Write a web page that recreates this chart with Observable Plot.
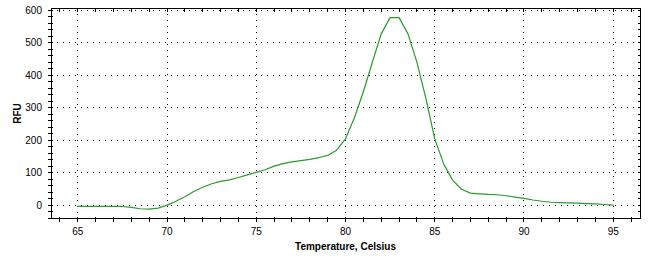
<!DOCTYPE html>
<html><head><meta charset="utf-8">
<script src="https://cdn.jsdelivr.net/npm/d3@7"></script>
<script src="https://cdn.jsdelivr.net/npm/@observablehq/plot@0.6"></script>
<style>
body{margin:0;background:#fff;}
#chart svg{font-family:"Liberation Sans",Arial,sans-serif;}
g[aria-label="x-axis label"] text, g[aria-label="y-axis label"] text {font-weight:bold;}
</style></head><body><div id="chart"></div>
<script>
const temperature = [65,65.5,66,66.5,67,67.5,68,68.5,69,69.5,70,70.5,71,71.5,72,72.5,73,73.5,74,74.5,75,75.5,76,76.5,77,77.5,78,78.5,79,79.5,80,80.5,81,81.5,82,82.5,83,83.5,84,84.5,85,85.5,86,86.5,87,87.5,88,88.5,89,89.5,90,90.5,91,91.5,92,92.5,93,93.5,94,94.5,95];
const rfu = [-3,-3,-3,-3,-3,-3,-6,-10,-11,-8,1,13,27,43,56,67,74,79,86,94,102,110,121,129,134,138,142,147,154,170,205,270,350,440,528,578,578,528,441,330,205,128,78,50,38,36,34,33,30,26,22,17,13,10,9,8,7,6,5,3,1];
const xMajorTicks = [65,70,75,80,85,90,95];
const xMinorTicks = d3.range(64, 97, 1);
const yMajorTicks = [0,100,200,300,400,500,600];
const yMinorTicks = d3.range(-40, 601, 20);
const data = temperature.map((t, i) => ({t, v: rfu[i]}));
const blank = () => "";
const plot = Plot.plot({
  width: 653, height: 260,
  marginLeft: 50.5, marginRight: 13.5, marginTop: 8, marginBottom: 42,
  style: {fontSize: "10px", color: "#000", background: "#fff"},
  x: {domain: [63.5, 96.5]},
  y: {domain: [-40, 606]},
  marks: [
    Plot.ruleX(xMajorTicks, {stroke: "#000", strokeDasharray: "1,5", shapeRendering: "crispEdges"}),
    Plot.ruleY(yMajorTicks, {stroke: "#000", strokeDasharray: "1,5", shapeRendering: "crispEdges"}),
    Plot.line(data, {x: "t", y: "v", stroke: "#2a9a2e", strokeWidth: 1.2}),
    Plot.frame({stroke: "#000", shapeRendering: "crispEdges"}),
    Plot.axisX(xMinorTicks, {anchor: "bottom", tickSize: 5, dy: -1.5, tickFormat: blank, label: null, shapeRendering: "crispEdges"}),
    Plot.axisX(xMinorTicks, {anchor: "top", tickSize: 3, dy: 3, tickFormat: blank, label: null, shapeRendering: "crispEdges"}),
    Plot.axisY(yMinorTicks, {anchor: "left", tickSize: 5, dx: 2.5, tickFormat: blank, label: null, shapeRendering: "crispEdges"}),
    Plot.axisY(yMinorTicks, {anchor: "right", tickSize: 3, dx: -3, tickFormat: blank, label: null, shapeRendering: "crispEdges"}),
    Plot.axisX(xMajorTicks, {anchor: "bottom", tickSize: 0, tickPadding: 9, label: "Temperature, Celsius", labelAnchor: "center", labelArrow: "none", labelOffset: 31}),
    Plot.axisY(yMajorTicks, {anchor: "left", tickSize: 0, tickPadding: 9, label: "RFU", labelAnchor: "center", labelArrow: "none", labelOffset: 37})
  ]
});
document.getElementById("chart").appendChild(plot);
</script></body></html>
